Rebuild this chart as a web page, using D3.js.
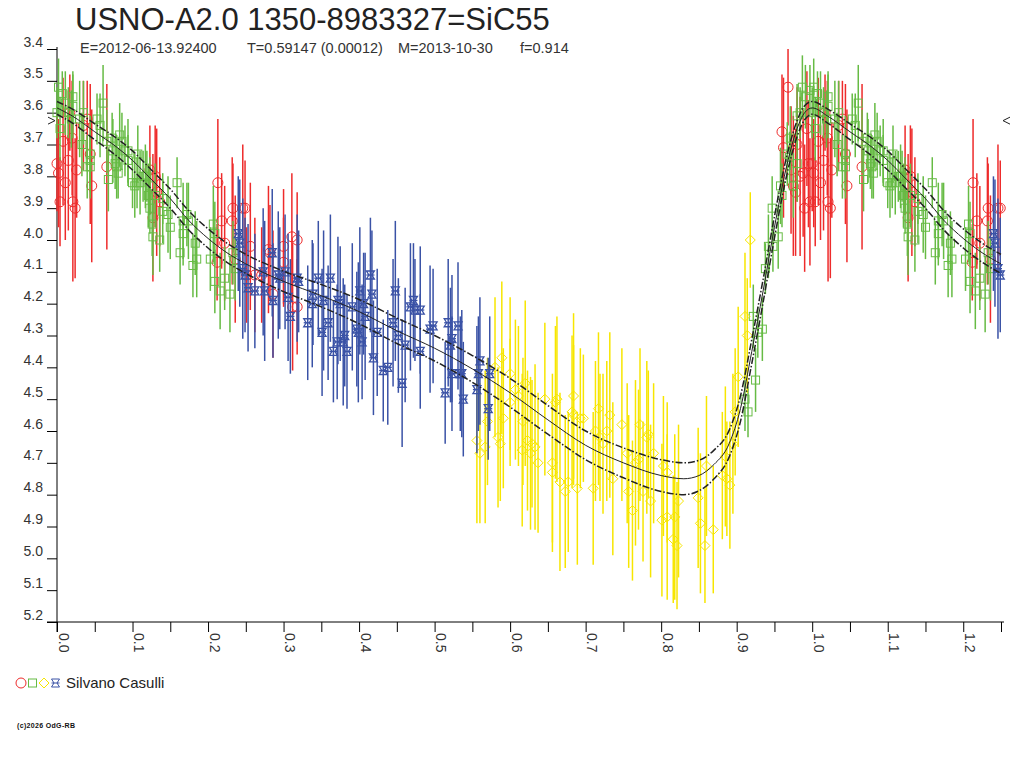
<!DOCTYPE html>
<html>
<head>
<meta charset="utf-8">
<script src="https://cdn.jsdelivr.net/npm/d3@7"></script>
<style>
body { margin: 0; background: #fff; }
svg { display: block; font-family: "Liberation Sans", Arial, sans-serif; }
</style>
</head>
<body>
<svg id="chart" width="1024" height="768"></svg>
<script>
var title = "USNO-A2.0 1350-8983327=SiC55";
var subtitle = ["E=2012-06-13.92400", "T=0.59147 (0.00012)", "M=2013-10-30", "f=0.914"];
var observer = "Silvano Casulli";
var copyright = "(c)2026 OdG-RB";

var yTicks = [3.4, 3.5, 3.6, 3.7, 3.8, 3.9, 4.0, 4.1, 4.2, 4.3, 4.4, 4.5, 4.6, 4.7, 4.8, 4.9, 5.0, 5.1, 5.2];
var xTicks = [0.0, 0.1, 0.2, 0.3, 0.4, 0.5, 0.6, 0.7, 0.8, 0.9, 1.0, 1.1, 1.2];
var xMinorTicks = [0.05, 0.15, 0.25, 0.35, 0.45, 0.55, 0.65, 0.75, 0.85, 0.95, 1.05, 1.15, 1.25];

// mean light curve and its half width
var modelPhase = [0.00, 0.02, 0.05, 0.08, 0.10, 0.125, 0.15, 0.175, 0.20, 0.225, 0.25, 0.30, 0.35, 0.40, 0.45, 0.50, 0.55, 0.60, 0.65, 0.70, 0.75, 0.80, 0.83, 0.85, 0.87, 0.89, 0.905, 0.92, 0.935, 0.95, 0.965, 0.98, 0.99];
var modelMag = [3.585, 3.61, 3.66, 3.71, 3.75, 3.81, 3.87, 3.94, 3.995, 4.04, 4.075, 4.13, 4.175, 4.225, 4.285, 4.34, 4.405, 4.48, 4.565, 4.645, 4.70, 4.74, 4.75, 4.74, 4.705, 4.64, 4.53, 4.35, 4.16, 3.96, 3.78, 3.65, 3.60];
var modelSig = [0.02, 0.022, 0.025, 0.028, 0.03, 0.03, 0.03, 0.03, 0.03, 0.03, 0.03, 0.032, 0.035, 0.038, 0.04, 0.04, 0.042, 0.045, 0.045, 0.045, 0.047, 0.05, 0.05, 0.048, 0.045, 0.042, 0.04, 0.038, 0.036, 0.034, 0.03, 0.025, 0.022];

// upper limit marker
var limitMag = 3.625;

// observations: [phase, mag, error]
var redObs = [
  [0.000,3.76,0.15],[0.002,3.79,0.17],[0.004,3.88,0.14],[0.008,3.69,0.20],[0.011,3.82,0.18],
  [0.015,3.75,0.22],[0.017,3.60,0.12],[0.020,3.68,0.18],[0.021,3.88,0.25],[0.024,3.90,0.22],
  [0.026,3.78,0.15],[0.035,3.64,0.14],[0.040,3.62,0.12],[0.044,3.73,0.22],[0.046,3.83,0.24],
  [0.066,3.77,0.26],[0.123,3.78,0.14],[0.127,3.93,0.20],[0.130,3.80,0.16],[0.132,3.85,0.20],
  [0.136,3.88,0.14],[0.212,4.07,0.12],[0.213,3.82,0.20],[0.218,3.94,0.15],[0.222,4.01,0.18],
  [0.232,3.94,0.20],[0.233,3.90,0.14],[0.236,4.06,0.20],[0.246,3.90,0.20],[0.249,3.90,0.15],
  [0.251,4.11,0.15],[0.256,4.02,0.20],[0.262,4.11,0.18],[0.271,4.11,0.15],[0.280,4.03,0.20],
  [0.282,4.04,0.15],[0.286,4.17,0.20],[0.300,4.02,0.18],[0.300,4.07,0.14],[0.311,3.99,0.20],
  [0.312,4.21,0.20],[0.318,4.00,0.15],[0.318,4.21,0.15],[0.960,3.66,0.18],[0.962,3.71,0.22],
  [0.968,3.52,0.12],[0.972,3.78,0.20],[0.975,3.83,0.22],[0.978,3.85,0.20],[0.980,3.70,0.18],
  [0.984,3.80,0.25],[0.988,3.79,0.20],[0.990,3.90,0.20],[0.993,3.65,0.18],[0.995,3.76,0.20],
  [0.997,3.88,0.20]
];

var greenObs = [
  [0.000,3.60,0.08],[0.002,3.52,0.09],[0.004,3.65,0.10],[0.007,3.54,0.07],[0.011,3.57,0.10],
  [0.015,3.60,0.08],[0.019,3.62,0.09],[0.021,3.55,0.08],[0.021,3.58,0.10],[0.030,3.62,0.12],
  [0.033,3.70,0.10],[0.035,3.60,0.10],[0.040,3.77,0.10],[0.044,3.73,0.12],[0.044,3.75,0.08],
  [0.044,3.77,0.10],[0.053,3.62,0.08],[0.057,3.64,0.10],[0.061,3.57,0.12],[0.066,3.69,0.10],
  [0.068,3.81,0.10],[0.073,3.68,0.08],[0.074,3.72,0.10],[0.077,3.76,0.08],[0.079,3.77,0.10],
  [0.081,3.79,0.08],[0.083,3.67,0.10],[0.086,3.69,0.09],[0.090,3.72,0.08],[0.094,3.72,0.10],
  [0.094,3.75,0.08],[0.100,3.82,0.08],[0.103,3.83,0.10],[0.106,3.82,0.08],[0.107,3.73,0.09],
  [0.110,3.82,0.10],[0.114,3.80,0.08],[0.117,3.80,0.10],[0.119,3.80,0.08],[0.121,3.86,0.10],
  [0.123,3.83,0.09],[0.123,3.90,0.08],[0.126,3.95,0.10],[0.127,3.99,0.12],[0.130,3.86,0.10],
  [0.136,4.00,0.10],[0.140,3.87,0.08],[0.140,3.91,0.10],[0.147,3.92,0.12],[0.150,3.96,0.10],
  [0.159,3.82,0.08],[0.163,4.04,0.10],[0.167,3.94,0.12],[0.167,3.98,0.10],[0.172,3.92,0.10],
  [0.174,3.94,0.12],[0.180,4.08,0.10],[0.183,4.01,0.10],[0.185,4.06,0.12],[0.203,4.06,0.10],
  [0.207,3.95,0.12],[0.209,3.98,0.10],[0.209,4.13,0.10],[0.216,4.16,0.12],[0.222,4.12,0.10],
  [0.229,4.17,0.12],[0.233,4.04,0.10],[0.236,4.09,0.10],
  [0.911,4.50,0.10],[0.915,4.54,0.08],[0.922,4.24,0.10],[0.925,4.44,0.10],[0.928,4.29,0.08],
  [0.934,4.28,0.10],[0.938,4.09,0.08],[0.942,4.02,0.10],[0.947,3.90,0.10],[0.948,4.02,0.08],
  [0.955,3.99,0.10],[0.958,3.83,0.12],[0.960,3.86,0.10],[0.967,3.73,0.10],[0.970,3.74,0.08],
  [0.971,3.68,0.10],[0.975,3.83,0.10],[0.980,3.61,0.10],[0.980,3.76,0.12],[0.984,3.60,0.08],
  [0.987,3.52,0.10],[0.991,3.55,0.10],[0.997,3.53,0.08]
];

var yellowObs = [
  [0.556,4.63,0.26],[0.560,4.67,0.22],[0.567,4.65,0.24],[0.570,4.57,0.20],[0.580,4.40,0.22],
  [0.584,4.62,0.22],[0.587,4.64,0.18],[0.589,4.37,0.24],[0.591,4.56,0.22],[0.600,4.42,0.24],
  [0.600,4.51,0.20],[0.607,4.47,0.22],[0.611,4.49,0.22],[0.616,4.66,0.24],[0.617,4.57,0.20],
  [0.620,4.45,0.26],[0.623,4.63,0.22],[0.627,4.67,0.24],[0.629,4.64,0.20],[0.633,4.65,0.26],
  [0.637,4.70,0.22],[0.646,4.50,0.24],[0.656,4.70,0.28],[0.656,4.73,0.22],[0.660,4.51,0.24],
  [0.662,4.50,0.26],[0.666,4.76,0.28],[0.673,4.79,0.24],[0.677,4.76,0.22],[0.682,4.54,0.24],
  [0.684,4.49,0.26],[0.684,4.55,0.22],[0.689,4.78,0.24],[0.693,4.56,0.22],[0.697,4.56,0.20],
  [0.710,4.78,0.24],[0.713,4.60,0.22],[0.717,4.53,0.24],[0.719,4.62,0.20],[0.723,4.64,0.22],
  [0.728,4.60,0.22],[0.732,4.55,0.26],[0.736,4.75,0.24],[0.748,4.58,0.24],[0.755,4.67,0.22],
  [0.757,4.79,0.24],[0.762,4.85,0.22],[0.766,4.70,0.26],[0.770,4.69,0.22],[0.772,4.58,0.24],
  [0.776,4.79,0.22],[0.781,4.62,0.24],[0.783,4.61,0.20],[0.786,4.82,0.24],[0.790,4.67,0.22],
  [0.801,4.88,0.24],[0.803,4.71,0.22],[0.808,4.87,0.26],[0.808,4.73,0.22],[0.816,4.94,0.20],
  [0.818,4.87,0.26],[0.821,4.96,0.20],[0.823,4.82,0.24],[0.849,4.81,0.22],[0.852,4.89,0.22],
  [0.858,4.96,0.18],[0.860,4.71,0.22],[0.869,4.91,0.20],[0.881,4.74,0.20],[0.885,4.68,0.22],
  [0.887,4.75,0.18],[0.891,4.77,0.20],[0.895,4.64,0.22],[0.898,4.54,0.20],[0.902,4.43,0.22],
  [0.911,4.24,0.20],[0.914,4.30,0.18],[0.918,4.00,0.15]
];

var blueObs = [
  [0.240,3.98,0.18],[0.242,4.01,0.20],[0.246,4.09,0.22],[0.249,4.11,0.18],[0.253,4.15,0.20],
  [0.262,4.16,0.18],[0.273,4.10,0.20],[0.275,4.16,0.22],[0.285,4.04,0.20],[0.286,4.19,0.18],
  [0.293,4.11,0.20],[0.295,4.12,0.16],[0.302,4.10,0.18],[0.306,4.18,0.20],[0.309,4.24,0.18],
  [0.318,4.12,0.20],[0.320,4.13,0.16],[0.332,4.26,0.18],[0.338,4.20,0.20],[0.339,4.17,0.16],
  [0.346,4.12,0.18],[0.351,4.29,0.20],[0.353,4.19,0.22],[0.359,4.26,0.18],[0.362,4.12,0.20],
  [0.366,4.35,0.16],[0.371,4.32,0.18],[0.372,4.19,0.20],[0.375,4.20,0.18],[0.379,4.32,0.20],
  [0.381,4.30,0.16],[0.384,4.35,0.18],[0.391,4.21,0.20],[0.397,4.28,0.18],[0.399,4.29,0.22],
  [0.401,4.16,0.20],[0.404,4.32,0.18],[0.406,4.20,0.16],[0.408,4.24,0.20],[0.415,4.11,0.18],
  [0.417,4.17,0.20],[0.419,4.37,0.18],[0.424,4.29,0.20],[0.432,4.41,0.16],[0.438,4.40,0.18],
  [0.445,4.26,0.20],[0.448,4.16,0.22],[0.452,4.30,0.18],[0.457,4.45,0.20],[0.461,4.33,0.18],
  [0.468,4.21,0.20],[0.472,4.19,0.18],[0.474,4.22,0.16],[0.481,4.22,0.20],[0.481,4.35,0.18],
  [0.494,4.28,0.20],[0.498,4.27,0.18],[0.514,4.48,0.16],[0.518,4.26,0.20],[0.521,4.33,0.18],
  [0.523,4.31,0.20],[0.523,4.42,0.18],[0.531,4.27,0.20],[0.534,4.42,0.18],[0.536,4.42,0.20],
  [0.538,4.50,0.18],[0.556,4.47,0.20],[0.558,4.42,0.18],[0.560,4.38,0.20],[0.571,4.53,0.16],
  [0.573,4.42,0.18]
];

var colors = { red: "#ee2b2b", green: "#66bb44", yellow: "#f7e600", blue: "#3a52a6" };

var svg = d3.select("#chart");

var x = d3.scaleLinear().domain([0, 1.25]).range([57, 1001]);
var y = d3.scaleLinear().domain([3.4, 5.2]).range([49, 622]);

// phase plot repeats the first quarter after phase 1
function fold(rows) {
    var extra = rows.filter(function (r) { return r[0] <= 0.25; })
                    .map(function (r) { return [r[0] + 1, r[1], r[2]]; });
    return rows.concat(extra);
}

// title block
svg.append("text")
    .attr("x", 75).attr("y", 30)
    .style("font-size", "31px").style("fill", "#222")
    .text(title);

var subX = [80, 247, 398, 520];
svg.selectAll("text.sub")
    .data(subtitle)
    .enter().append("text")
    .attr("class", "sub")
    .attr("x", function (d, i) { return subX[i]; })
    .attr("y", 53)
    .style("font-size", "14.5px").style("fill", "#333")
    .text(function (d) { return d; });

// axes
var yAxis = svg.append("g")
    .attr("transform", "translate(57,0)")
    .call(d3.axisLeft(y).tickValues(yTicks).tickSize(10).tickSizeOuter(0).tickFormat(d3.format(".1f")));
yAxis.select(".domain").remove();
yAxis.selectAll("line").attr("stroke", "#000");
yAxis.selectAll("text")
    .attr("x", -14).attr("dy", -3)
    .style("font-size", "14px").style("font-family", "Liberation Sans, Arial, sans-serif").style("fill", "#333");

var xAxis = svg.append("g")
    .attr("transform", "translate(0," + y(5.2) + ")")
    .call(d3.axisBottom(x).tickValues(xTicks).tickSize(10).tickSizeOuter(0).tickFormat(d3.format(".1f")));
xAxis.select(".domain").remove();
xAxis.selectAll("line").attr("stroke", "#000");
xAxis.selectAll("text")
    .attr("x", 0).attr("y", 0).attr("dy", 0)
    .attr("transform", "translate(1,11) rotate(90)")
    .style("text-anchor", "start")
    .style("font-size", "14px").style("font-family", "Liberation Sans, Arial, sans-serif").style("fill", "#333");

var xMinor = svg.append("g")
    .attr("transform", "translate(0," + y(5.2) + ")")
    .call(d3.axisBottom(x).tickValues(xMinorTicks).tickSize(10).tickSizeOuter(0).tickFormat(""));
xMinor.select(".domain").remove();
xMinor.selectAll("line").attr("stroke", "#000");

svg.append("line")
    .attr("x1", 57).attr("x2", 57).attr("y1", y(3.4) - 2).attr("y2", y(5.2) + 10)
    .attr("stroke", "#000");
svg.append("line")
    .attr("x1", 47).attr("x2", x(1.254)).attr("y1", y(5.2)).attr("y2", y(5.2))
    .attr("stroke", "#000");

// markers
var symbols = {
    circle: function (g) { g.append("circle").attr("r", 5); },
    square: function (g) { g.append("rect").attr("x", -4).attr("y", -4).attr("width", 8).attr("height", 8); },
    diamond: function (g) { g.append("path").attr("d", "M0,-5L5,0L0,5L-5,0Z"); },
    star: function (g) {
        g.append("path").attr("d", "M-4,-4L4,-4L1.5,0L4,4L-4,4L-1.5,0Z");
        g.append("path").attr("d", "M-4,0L4,0");
    }
};

function drawSeries(rows, color, shape) {
    var data = fold(rows);
    var g = svg.append("g");
    g.selectAll("line")
        .data(data)
        .enter().append("line")
        .attr("x1", function (d) { return x(d[0]); })
        .attr("x2", function (d) { return x(d[0]); })
        .attr("y1", function (d) { return y(d[1] - d[2]); })
        .attr("y2", function (d) { return y(d[1] + d[2]); })
        .attr("stroke", color)
        .attr("stroke-width", 1.5);
    g.selectAll("g.mk")
        .data(data)
        .enter().append("g")
        .attr("class", "mk")
        .attr("transform", function (d) { return "translate(" + x(d[0]) + "," + y(d[1]) + ")"; })
        .each(function () { symbols[shape](d3.select(this)); })
        .selectAll("*")
        .attr("fill", "none")
        .attr("stroke", color)
        .attr("stroke-width", shape === "star" ? 1.3 : 1);
}

drawSeries(redObs, colors.red, "circle");
drawSeries(greenObs, colors.green, "square");
drawSeries(yellowObs, colors.yellow, "diamond");
drawSeries(blueObs, colors.blue, "star");

// model curves
var model = modelPhase.map(function (p, i) { return { p: p, m: modelMag[i], s: modelSig[i] }; });
model = model.concat(model.filter(function (d) { return d.p <= 0.25; })
                          .map(function (d) { return { p: d.p + 1, m: d.m, s: d.s }; }));

function curveLine(offset) {
    return d3.line()
        .x(function (d) { return x(d.p); })
        .y(function (d) { return y(d.m + offset * d.s); })
        .curve(d3.curveMonotoneX);
}

svg.append("path").datum(model)
    .attr("d", curveLine(0))
    .attr("fill", "none").attr("stroke", "#222").attr("stroke-width", 1);
[-1, 1].forEach(function (k) {
    svg.append("path").datum(model)
        .attr("d", curveLine(k))
        .attr("fill", "none").attr("stroke", "#222").attr("stroke-width", 1.5)
        .attr("stroke-dasharray", "7,2,1.5,2");
});

// limit markers
var ly = y(limitMag);
svg.append("path")
    .attr("d", "M48," + (ly - 3.5) + "L55," + ly + "L48," + (ly + 3.5))
    .attr("fill", "none").attr("stroke", "#222");
svg.append("path")
    .attr("d", "M1010," + (ly - 3.5) + "L1003," + ly + "L1010," + (ly + 3.5))
    .attr("fill", "none").attr("stroke", "#222");

// legend
var legend = svg.append("g").attr("transform", "translate(0,683)");
var legendItems = [
    { cx: 21, color: colors.red, shape: "circle" },
    { cx: 32.5, color: colors.green, shape: "square" },
    { cx: 44, color: colors.yellow, shape: "diamond" },
    { cx: 55.5, color: colors.blue, shape: "star" }
];
legendItems.forEach(function (it) {
    var g = legend.append("g").attr("transform", "translate(" + it.cx + ",0)");
    symbols[it.shape](g);
    g.selectAll("*").attr("fill", "none").attr("stroke", it.color).attr("stroke-width", 1);
});
legend.append("text")
    .attr("x", 66).attr("y", 5)
    .style("font-size", "15px").style("fill", "#222")
    .text(observer);

svg.append("text")
    .attr("x", 17).attr("y", 728)
    .attr("textLength", 58)
    .style("font-size", "7px").style("font-weight", "bold").style("fill", "#111")
    .text(copyright);
</script>
</body>
</html>
